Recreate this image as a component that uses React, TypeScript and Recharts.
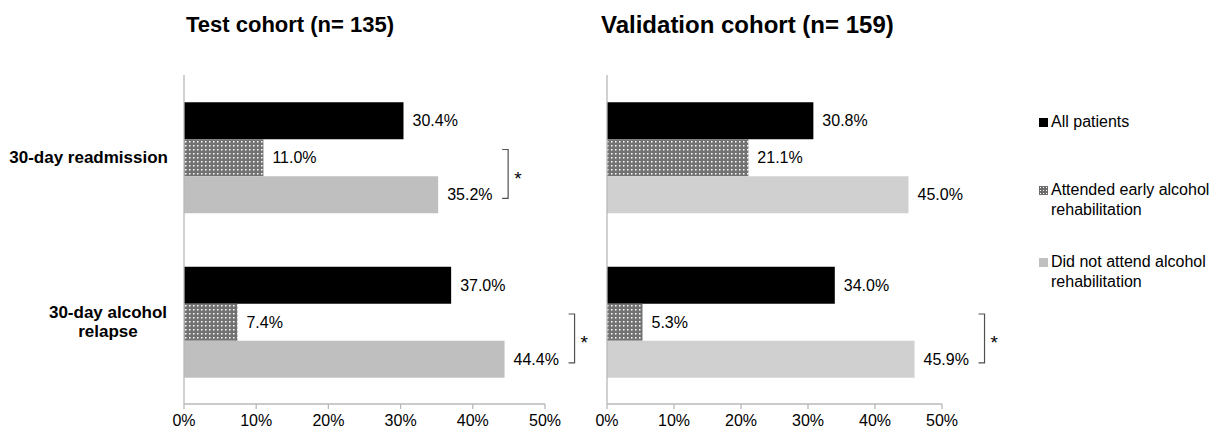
import React from 'react';
import { BarChart, Bar, XAxis, YAxis, LabelList } from 'recharts';

// ---- data ----
const categories = ['30-day readmission', '30-day alcohol\nrelapse'];
const seriesNames = [
  'All patients',
  'Attended early alcohol\nrehabilitation',
  'Did not attend alcohol\nrehabilitation',
];
const testAll = [30.4, 37.0];
const testAttended = [11.0, 7.4];
const testNotAttended = [35.2, 44.4];
const testSignificant = [true, true];
const valAll = [30.8, 34.0];
const valAttended = [21.1, 5.3];
const valNotAttended = [45.0, 45.9];
const valSignificant = [false, true];
const xTicks = [0, 10, 20, 30, 40, 50];
const titles = ['Test cohort (n= 135)', 'Validation cohort (n= 159)'];

const FONT = '"Liberation Sans", Arial, Helvetica, sans-serif';

const buildData = (all: number[], att: number[], notAtt: number[], sig: boolean[]) =>
  categories.map((c, i) => ({ category: c, all: all[i], attended: att[i], notAttended: notAtt[i], sig: sig[i] ? 1 : 0 }));

const testData = buildData(testAll, testAttended, testNotAttended, testSignificant);
const valData = buildData(valAll, valAttended, valNotAttended, valSignificant);

const AXIS_COLOR = '#b8b8b8';

const ValueLabel = (props: any) => {
  const { x, y, width, height, value } = props;
  return (
    <text
      x={Number(x) + Number(width) + 9}
      y={Number(y) + Number(height) / 2}
      dominantBaseline="central"
      fontSize={16}
      fontFamily={FONT}
      fill="#000"
    >
      {Number(value).toFixed(1)}%
    </text>
  );
};

const Bracket = (props: any) => {
  const { x, y, width, height, value } = props;
  if (!value) return null;
  const bx = Number(x) + Number(width) + 70;
  const h = Number(height);
  const top = Number(y) - 0.72 * h;
  const bottom = Number(y) + 0.6 * h;
  const mid = (top + bottom) / 2;
  return (
    <g>
      <path d={`M${bx - 6},${top}H${bx}V${bottom}H${bx - 6}`} fill="none" stroke="#505050" strokeWidth={1.2} />
      <text x={bx + 6} y={mid + 11} fontSize={19} fontFamily={FONT} fill="#000">*</text>
    </g>
  );
};

const CategoryTick = (props: any) => {
  const { x, y, payload } = props;
  const lines: string[] = String(payload.value).split('\n');
  if (lines.length === 1) {
    return (
      <text x={x} y={y} textAnchor="end" dominantBaseline="central" fontSize={17} fontWeight="bold" fontFamily={FONT} fill="#000">
        {lines[0]}
      </text>
    );
  }
  const lh = 19;
  return (
    <g>
      {lines.map((l, i) => (
        <text
          key={i}
          x={x - 60}
          y={y + (i - (lines.length - 1) / 2) * lh}
          textAnchor="middle"
          dominantBaseline="central"
          fontSize={17}
          fontWeight="bold"
          fontFamily={FONT}
          fill="#000"
        >
          {l}
        </text>
      ))}
    </g>
  );
};

const DotPattern = ({ id }: { id: string }) => (
  <pattern id={id} width={4} height={4} patternUnits="userSpaceOnUse">
    <rect width={4} height={4} fill="#727272" />
    <rect x={1} y={1} width={1.5} height={1.5} fill="#ffffff" />
  </pattern>
);

const Panel = ({ data, pid, greyFill, showCategories, width, margin }: any) => (
  <BarChart
    width={width}
    height={433}
    data={data}
    layout="vertical"
    margin={margin}
    barCategoryGap="16.5%"
    barGap={0}
  >
    <defs>
      <DotPattern id={pid} />
    </defs>
    <XAxis
      type="number"
      domain={[0, 50]}
      ticks={xTicks}
      tickFormatter={(v: number) => `${v}%`}
      tick={{ fill: '#000', fontSize: 16, fontFamily: FONT }}
      tickSize={5}
      tickMargin={6}
      height={25}
      axisLine={{ stroke: AXIS_COLOR, strokeWidth: 1.3 }}
      tickLine={{ stroke: AXIS_COLOR, strokeWidth: 1.3 }}
      interval={0}
    />
    <YAxis
      type="category"
      dataKey="category"
      width={showCategories ? 184 : 7}
      tickSize={0}
      tickMargin={16}
      tick={showCategories ? <CategoryTick /> : false}
      tickLine={false}
      axisLine={{ stroke: AXIS_COLOR, strokeWidth: 1.3 }}
      interval={0}
    />
    <Bar dataKey="all" name={seriesNames[0]} fill="#000000" isAnimationActive={false}>
      <LabelList dataKey="all" content={<ValueLabel />} />
    </Bar>
    <Bar dataKey="attended" name={seriesNames[1]} fill={`url(#${pid})`} isAnimationActive={false}>
      <LabelList dataKey="attended" content={<ValueLabel />} />
    </Bar>
    <Bar dataKey="notAttended" name={seriesNames[2]} fill={greyFill} isAnimationActive={false}>
      <LabelList dataKey="notAttended" content={<ValueLabel />} />
      <LabelList dataKey="sig" content={<Bracket />} />
    </Bar>
  </BarChart>
);

const LegendSwatch = ({ index }: { index: number }) => (
  <svg width={9} height={9} style={{ display: 'block' }}>
    <defs>
      <pattern id="dotsLegend" width={3} height={3} patternUnits="userSpaceOnUse">
        <rect width={3} height={3} fill="#6c6c6c" />
        <rect x={1} y={1} width={1} height={1} fill="#ffffff" />
      </pattern>
    </defs>
    <rect width={9} height={9} fill={index === 0 ? '#000' : index === 1 ? 'url(#dotsLegend)' : '#c0c0c0'} />
  </svg>
);

const legendTops = [112, 180, 252];

export default function App() {
  return (
    <div style={{ position: 'absolute', left: 0, top: 0, width: 1216, height: 433, background: '#fff', fontFamily: FONT, overflow: 'hidden' }}>
      <div style={{ position: 'absolute', left: 186, top: 12, fontSize: 22, lineHeight: '26px', fontWeight: 'bold', color: '#000', whiteSpace: 'nowrap' }}>
        {titles[0]}
      </div>
      <div style={{ position: 'absolute', left: 601, top: 12, fontSize: 24, lineHeight: '26px', fontWeight: 'bold', color: '#000', whiteSpace: 'nowrap' }}>
        {titles[1]}
      </div>
      <div style={{ position: 'absolute', left: 0, top: 0 }}>
        <Panel data={testData} pid="dotsTest" greyFill="#bfbfbf" showCategories width={600} margin={{ top: 75, right: 55, bottom: 4, left: 0 }} />
      </div>
      <div style={{ position: 'absolute', left: 570, top: 0 }}>
        <Panel data={valData} pid="dotsVal" greyFill="#d0d0d0" showCategories={false} width={646} margin={{ top: 75, right: 274, bottom: 4, left: 30 }} />
      </div>
      {seriesNames.map((name, i) => (
        <div key={i} style={{ position: 'absolute', left: 1039, top: legendTops[i], display: 'flex', alignItems: 'flex-start' }}>
          <div style={{ marginTop: 5.5, marginRight: 3 }}>
            <LegendSwatch index={i} />
          </div>
          <div style={{ fontSize: 16, lineHeight: '20px', color: '#000', whiteSpace: 'pre' }}>{name}</div>
        </div>
      ))}
    </div>
  );
}
